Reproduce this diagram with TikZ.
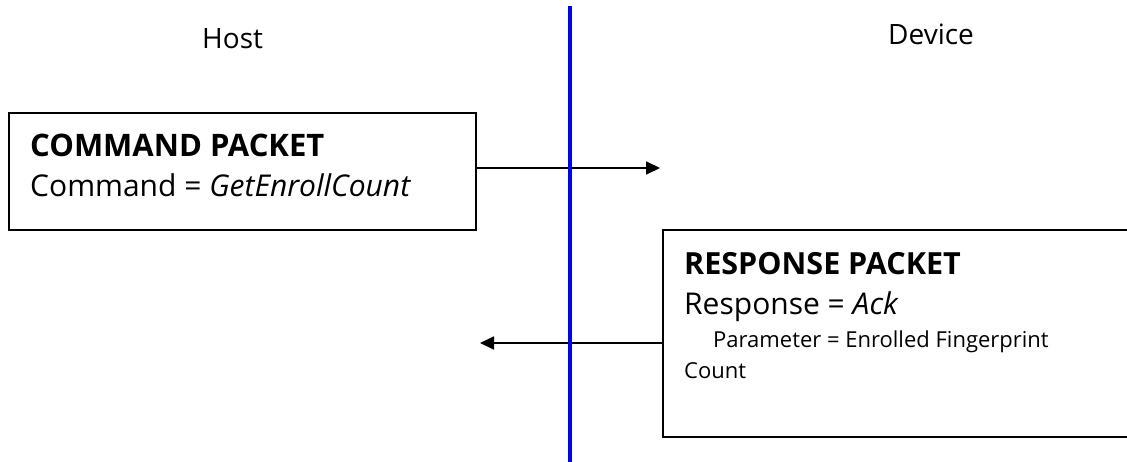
\documentclass[tikz,border=0pt]{standalone}
\usepackage{fontspec}
\setmainfont{Open Sans}
\usetikzlibrary{arrows.meta}
\begin{document}
\begin{tikzpicture}[x=1pt,y=-1pt,
  box/.style={draw=black,line width=2pt,rectangle,inner sep=0pt},
  lbl/.style={inner sep=0pt,anchor=base west},
  arr/.style={line width=1.8pt,-{Triangle[length=14pt,width=13pt]}}]
\useasboundingbox (0,0) rectangle (1127,462);
\clip (0,0) rectangle (1127,462);
\fill[white] (0,0) rectangle (1127,462);
% labels
\node[lbl] (host) at (202,49) {\fontsize{28}{32}\selectfont Host};
\node[lbl] (dev) at (888,45) {\fontsize{28}{32}\selectfont Device};
% divider
\coordinate (dtop) at (569.5,6);
\coordinate (dbot) at (569.5,470);
% command box
\node[box,minimum width=467pt,minimum height=117pt] (cmd) at (242.5,171.5) {};
\node[lbl] (cmdt) at (30,157) {\fontsize{31}{34}\selectfont\bfseries COMMAND PACKET};
\node[lbl] (cmdl) at (30,197) {\fontsize{30}{34}\selectfont Command = \textit{GetEnrollCount}};
% response box
\node[box,minimum width=477pt,minimum height=207pt] (rsp) at (901.5,333.5) {};
\node[lbl] (rspt) at (684,275) {\fontsize{30.5}{34}\selectfont\bfseries RESPONSE PACKET};
\node[lbl] (rspl) at (684,315) {\fontsize{30}{34}\selectfont Response = \textit{Ack}};
\node[lbl] (par) at (713,348) {\fontsize{22}{26}\selectfont Parameter = Enrolled Fingerprint};
\node[lbl] (cnt) at (684,378) {\fontsize{22}{26}\selectfont Count};
% arrows
\coordinate (a1end) at (660,168);
\coordinate (a2end) at (480,343);
\draw[arr] (cmd.east |- a1end) -- (a1end);
\draw[arr] (rsp.west |- a2end) -- (a2end);
\draw[blue,line width=4pt] (dtop) -- (dbot);
\end{tikzpicture}
\end{document}
